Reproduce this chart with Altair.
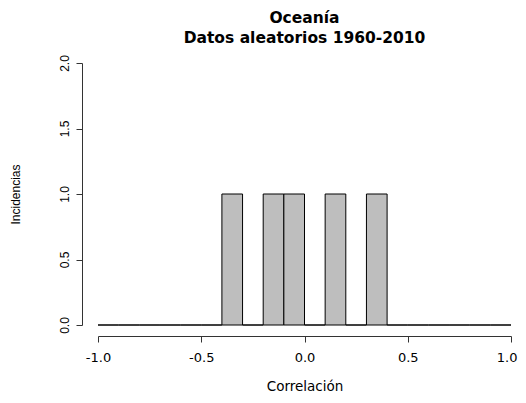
import altair as alt
import pandas as pd

bin_start = [-1.0, -0.9, -0.8, -0.7, -0.6, -0.5, -0.4, -0.3, -0.2, -0.1,
             0.0, 0.1, 0.2, 0.3, 0.4, 0.5, 0.6, 0.7, 0.8, 0.9]
counts = [0, 0, 0, 0, 0, 0, 1, 0, 1, 1,
          0, 1, 0, 1, 0, 0, 0, 0, 0, 0]
bin_width = 0.1
x_ticks = [-1.0, -0.5, 0.0, 0.5, 1.0]
y_ticks = [0.0, 0.5, 1.0, 1.5, 2.0]

df = pd.DataFrame({
    "x0": bin_start,
    "x1": [round(b + bin_width, 2) for b in bin_start],
    "n": counts,
})

HFONT = "DejaVu Sans"
VFONT = "Liberation Sans"
label_expr = "datum.value < 0 ? '-' + format(-datum.value, '.1f') : format(datum.value, '.1f')"

x_axis = alt.Axis(
    values=x_ticks, labelExpr=label_expr, title="Correlación",
    offset=11, grid=False, domainColor="#333",
    tickColor="#333", tickSize=6, labelFontSize=13,
    labelPadding=9, titleFontSize=13.5, titleFontWeight="normal",
    titlePadding=15, labelFont=HFONT, titleFont=HFONT,
    labelColor="black", titleColor="black", labelFlush=False,
    labelAlign={"condition": {"test": "datum.value >= 1", "value": "right"}, "value": "center"},
    labelOffset={"condition": {"test": "datum.value >= 1", "value": 6}, "value": 0},
)

chart = alt.Chart(df).mark_rect(
    fill="#BEBEBE", stroke="black", strokeWidth=1
).encode(
    x=alt.X("x0:Q", scale=alt.Scale(domain=[-1, 1], nice=False, zero=False), axis=x_axis),
    x2="x1:Q",
    y=alt.Y("n:Q", scale=alt.Scale(domain=[0, 2], nice=False),
            axis=alt.Axis(values=y_ticks, format=".1f", title="Incidencias",
                          offset=16, grid=False, domainColor="#333",
                          tickColor="#333", tickSize=6, labelFontSize=12,
                          labelAngle=270, labelAlign="center", labelBaseline="bottom",
                          labelPadding=5, titleFontSize=12, titleFontWeight="normal",
                          titlePadding=36, labelFont=VFONT, titleFont=VFONT,
                          labelColor="black", titleColor="black",
                          labelFlush=False)),
    y2=alt.datum(0),
).properties(
    width=413,
    height=262,
    title=alt.TitleParams(
        text=["Oceanía", "Datos aleatorios 1960-2010"],
        font=HFONT, fontSize=15.5, fontWeight="bold", color="black",
        anchor="middle", offset=8, lineHeight=20,
    ),
    autosize=alt.AutoSizeParams(type="none"),
    padding={"left": 90, "top": 55, "right": 7, "bottom": 68},
).configure_view(stroke=None)

chart.save("out.html", embed_options={"renderer": "svg", "actions": False})
